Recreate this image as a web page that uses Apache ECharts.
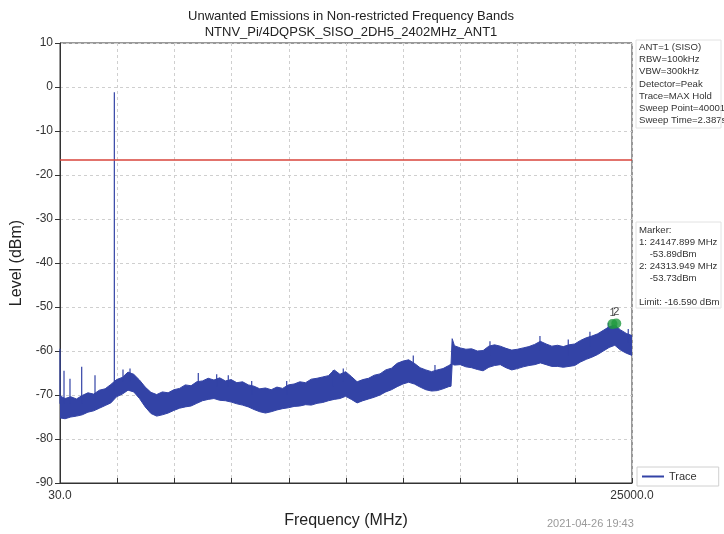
<!DOCTYPE html>
<html>
<head>
<meta charset="utf-8">
<script src="https://cdn.jsdelivr.net/npm/echarts@6/dist/echarts.min.js"></script>
<style>html,body{margin:0;padding:0;background:#fff}#c{width:724px;height:534px}</style>
</head>
<body>
<div id="c"></div>
<script>
// ---- data ----
const freqMHz = [30,250,500,750,1000,1250,1500,1750,2000,2250,2500,2750,3000,3250,3500,3750,4000,4250,4500,4750,
  5000,5250,5500,5750,6000,6250,6500,6750,7000,7250,7500,7750,8000,8250,8500,8750,9000,9250,9500,9750,
  10000,10250,10500,10750,11000,11250,11500,11750,12000,12250,12500,12750,13000,13250,13500,13750,14000,14250,14500,14750,
  15000,15250,15500,15750,16000,16250,16500,16750,17000,17100,17150,17250,17500,17750,18000,18250,18500,18750,19000,19250,
  19500,19750,20000,20250,20500,20750,21000,21250,21500,21750,22000,22250,22500,22750,23000,23250,23500,23750,24000,24250,
  24500,24750,25000];
const traceHigh = [-70.2,-70.8,-70.4,-70.9,-70.1,-69.5,-69.8,-68.9,-68.6,-67.6,-66.5,-66.0,-64.8,-65.3,-66.6,-68.2,-69.4,-69.9,-69.3,-69.5,
  -68.8,-68.5,-67.7,-67.9,-67.0,-66.8,-66.2,-66.6,-66.1,-66.8,-66.5,-67.2,-67.0,-67.7,-68.0,-68.6,-68.4,-68.8,-68.2,-68.5,
  -67.7,-67.5,-67.0,-67.2,-66.4,-66.2,-65.9,-65.6,-64.3,-65.3,-64.7,-65.8,-67.0,-66.5,-66.2,-65.5,-65.2,-64.3,-63.9,-62.8,
  -62.3,-62.0,-62.8,-63.8,-64.3,-64.7,-64.3,-64.0,-63.3,-63.0,-57.2,-58.8,-59.3,-59.6,-59.5,-60.0,-59.9,-58.9,-58.6,-58.9,
  -59.4,-59.8,-59.6,-59.3,-59.0,-58.5,-57.8,-58.4,-58.9,-58.7,-59.0,-58.6,-58.4,-57.6,-57.0,-56.6,-56.1,-55.3,-54.5,-54.1,
  -55.2,-56.0,-56.5];
const traceLow = [-75.2,-75.4,-75.0,-74.8,-74.5,-73.9,-73.6,-73.0,-72.4,-71.8,-70.4,-69.8,-68.9,-69.3,-70.8,-72.7,-74.2,-74.8,-74.5,-74.1,
  -73.5,-73.0,-72.7,-72.5,-71.9,-71.3,-71.0,-70.8,-71.2,-71.3,-71.6,-72.0,-72.3,-72.7,-73.3,-73.8,-74.1,-73.8,-73.4,-73.1,
  -72.9,-72.6,-72.5,-72.2,-72.3,-71.9,-71.7,-71.3,-71.0,-70.8,-70.3,-71.0,-71.8,-71.3,-70.9,-70.5,-70.0,-69.3,-68.8,-68.1,
  -67.5,-67.1,-67.5,-68.2,-68.8,-69.1,-69.0,-68.6,-68.1,-68.0,-63.0,-63.2,-63.1,-63.6,-63.8,-64.2,-64.5,-63.7,-63.3,-63.1,
  -63.8,-64.3,-64.0,-63.6,-63.3,-63.1,-62.7,-63.1,-63.5,-63.5,-63.7,-63.5,-63.3,-62.5,-61.9,-61.4,-60.8,-60.0,-59.2,-58.7,
  -59.8,-60.5,-61.0];
const spikeFreq = [30, 205, 466, 977, 1558, 2402, 2780, 3086, 6067, 6870, 7376, 8398, 9926, 11960, 12396,
  15452, 16399, 18800, 20982, 22217, 23164, 23963, 24836];
const spikePeak = [-59.5, -64.5, -66.3, -63.6, -65.5, -1.2, -64.2, -64.0, -65.0, -65.3, -65.5, -66.8, -66.8, -64.3, -64.0,
  -61.0, -63.2, -57.8, -56.6, -57.4, -55.6, -53.6, -55.0];
const spikeBase = [-72, -72, -72, -72, -71, -69, -67, -67, -68, -68, -68, -70, -70, -68, -67,
  -64, -66, -61, -60, -61, -59, -56, -58];
const limitDbm = -16.59;
const markerFreq = [24147.899, 24313.949];
const markerLevel = [-53.89, -53.73];
const markerLabel = ['1', '2'];
const xRange = [30, 25000];
const yRange = [-90, 10];
const infoLines = ['ANT=1 (SISO)','RBW=100kHz','VBW=300kHz','Detector=Peak','Trace=MAX Hold','Sweep Point=40001','Sweep Time=2.387s'];
const markerLines = ['Marker:','1: 24147.899 MHz','    -53.89dBm','2: 24313.949 MHz','    -53.73dBm','','Limit: -16.590 dBm'];

// ---- chart ----
const FONT = 'Liberation Sans, Arial, sans-serif';
const BLUE = '#3343a6';
const chart = echarts.init(document.getElementById('c'), null, {renderer: 'canvas'});

const series = [];
series.push({
  name: 'Trace', type: 'custom', silent: true, clip: true, color: BLUE,
  data: [[freqMHz[0], traceHigh[0]]],
  renderItem: function (params, api) {
    if (params.dataIndex !== 0) return null;
    const pts = [];
    for (let i = 0; i < freqMHz.length; i++) pts.push(api.coord([freqMHz[i], traceHigh[i]]));
    for (let i = freqMHz.length - 1; i >= 0; i--) pts.push(api.coord([freqMHz[i], traceLow[i]]));
    return {type: 'polygon', shape: {points: pts}, style: {fill: BLUE, stroke: BLUE, lineWidth: 1}};
  },
  z: 3
});
spikeFreq.forEach((f, i) => {
  series.push({
    name: 'spike' + i, type: 'line', symbol: 'none', silent: true,
    data: [[f, spikeBase[i]], [f, spikePeak[i]]],
    lineStyle: {color: BLUE, width: 1.2}, z: 3
  });
});
series.push({
  name: 'Limit', type: 'line', symbol: 'none', silent: true,
  data: [[xRange[0], limitDbm], [xRange[1], limitDbm]],
  lineStyle: {color: '#d9453b', width: 1.5}, z: 4
});
series.push({
  name: 'Markers', type: 'scatter', symbol: 'circle', symbolSize: 10, silent: true,
  data: markerFreq.map((f, i) => ({value: [f, markerLevel[i]], label: {formatter: markerLabel[i]}})),
  itemStyle: {color: '#1f9a3f'},
  label: {show: true, position: 'top', distance: 1, fontSize: 11, color: '#111', fontFamily: FONT},
  z: 5
});

const graphics = [];
infoLines.forEach((t, i) => {
  graphics.push({type: 'text', x: 639, y: 42 + i * 12.3,
    style: {text: t, fill: '#333', fontSize: 9.6, fontFamily: FONT}});
});
markerLines.forEach((t, i) => {
  graphics.push({type: 'text', x: 639, y: 225 + i * 12.1,
    style: {text: t, fill: '#333', fontSize: 9.6, fontFamily: FONT}});
});
graphics.push({type: 'rect', shape: {x: 636, y: 40, width: 85, height: 88}, style: {fill: 'none', stroke: '#e2e2e2'}});
graphics.push({type: 'rect', shape: {x: 636, y: 222, width: 85, height: 86}, style: {fill: 'none', stroke: '#e2e2e2'}});
graphics.push({type: 'text', x: 547, y: 518,
  style: {text: '2021-04-26 19:43', fill: '#9a9a9a', fontSize: 11, fontFamily: FONT}});

chart.setOption({
  animation: false,
  backgroundColor: '#fff',
  title: {
    text: 'Unwanted Emissions in Non-restricted Frequency Bands\nNTNV_Pi/4DQPSK_SISO_2DH5_2402MHz_ANT1',
    left: 346, top: 3, textAlign: 'center',
    textStyle: {fontSize: 13, fontWeight: 'normal', color: '#222', lineHeight: 16, fontFamily: FONT}
  },
  legend: {
    data: [{name: 'Trace', icon: 'rect'}],
    left: 637, top: 467, itemWidth: 22, itemHeight: 2,
    borderColor: '#d0d0d0', borderWidth: 1, padding: [4, 22, 4, 5],
    textStyle: {fontSize: 11, color: '#333', fontFamily: FONT}
  },
  grid: {left: 60, right: 92, top: 43, bottom: 48, show: true, borderColor: '#333', borderWidth: 1, backgroundColor: '#fff'},
  xAxis: {
    type: 'value', min: xRange[0], max: xRange[1], interval: 2497,
    name: 'Frequency (MHz)', nameLocation: 'middle', nameGap: 30,
    nameTextStyle: {fontSize: 16, color: '#222', fontFamily: FONT},
    axisLine: {onZero: false, lineStyle: {color: '#333'}},
    axisTick: {show: true, inside: true, length: 5, lineStyle: {color: '#333'}},
    axisLabel: {formatter: v => (v === 30 ? '30.0' : (v === 25000 ? '25000.0' : '')), fontSize: 12, color: '#333', margin: 7, fontFamily: FONT, showMinLabel: true, showMaxLabel: true},
    splitLine: {show: true, lineStyle: {color: '#cfcfcf', type: [3, 3]}}
  },
  yAxis: {
    type: 'value', min: yRange[0], max: yRange[1], interval: 10,
    name: 'Level (dBm)', nameLocation: 'middle', nameGap: 32,
    nameTextStyle: {fontSize: 16, color: '#222', fontFamily: FONT},
    axisLine: {show: true, onZero: false, lineStyle: {color: '#333'}},
    axisTick: {show: true, length: 5, lineStyle: {color: '#333'}},
    axisLabel: {fontSize: 12, color: '#333', margin: 7, fontFamily: FONT},
    splitLine: {show: true, lineStyle: {color: '#cfcfcf', type: [3, 3]}}
  },
  series: series,
  graphic: graphics
});
</script>
</body>
</html>
